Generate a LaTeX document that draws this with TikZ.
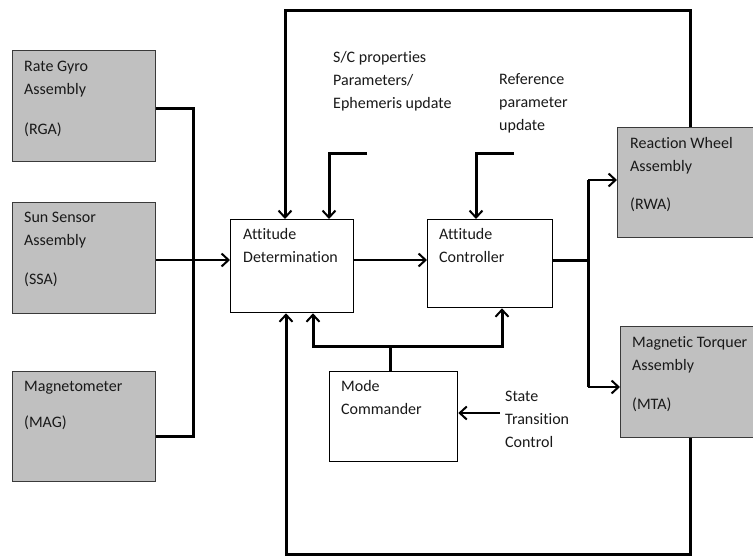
\documentclass[tikz,border=0pt]{standalone}
\usepackage{fontspec}
\setmainfont{Carlito}[Ligatures={NoCommon}]
\usetikzlibrary{arrows.meta}
\definecolor{boxgray}{HTML}{C0C0C0}
\definecolor{boxline}{HTML}{3A3A3A}
\begin{document}
\begin{tikzpicture}[x=1pt,y=-1pt,
  graybox/.style={draw=boxline,fill=boxgray,line width=1.3pt,inner sep=0pt,anchor=north west},
  whitebox/.style={draw=black,fill=white,line width=1.3pt,inner sep=0pt,anchor=north west},
  lbl/.style={anchor=base west,align=left,inner sep=0pt,font=\fontsize{16}{23}\selectfont,text=black!90},
  heavy/.style={line width=3pt},
  medium/.style={line width=2pt},
  tip/.style={-{Straight Barb[length=7pt,width=13pt,line width=2pt]}},
  line join=miter]
\clip (0,0) rectangle (753,557);
\fill[white] (0,0) rectangle (753,557);

% boxes
\node[graybox,minimum width=143pt,minimum height=111pt] (rga) at (12,50) {};
\node[graybox,minimum width=143pt,minimum height=111pt] (ssa) at (12,202) {};
\node[graybox,minimum width=143pt,minimum height=110pt] (mag) at (12,371) {};
\node[whitebox,minimum width=123pt,minimum height=93pt] (ad) at (230,219) {};
\node[whitebox,minimum width=125pt,minimum height=88pt] (ac) at (427,219) {};
\node[whitebox,minimum width=128pt,minimum height=90pt] (mc) at (329,371) {};
\node[graybox,minimum width=145pt,minimum height=110pt] (rwa) at (617,127) {};
\node[graybox,minimum width=142pt,minimum height=111pt] (mta) at (620,326) {};

% labels (anchored at the baseline of their last line)
\node[lbl] (trga) at (24,134) {Rate Gyro\\Assembly\\[17pt](RGA)};
\node[lbl] (tssa) at (24,284) {Sun Sensor\\Assembly\\[16pt](SSA)};
\node[lbl] (tmag) at (24,427) {Magnetometer\\[13pt](MAG)};
\node[lbl] (tad) at (243,262) {Attitude\\Determination};
\node[lbl] (tac) at (439,262) {Attitude\\Controller};
\node[lbl] (tmc) at (341,414) {Mode\\Commander};
\node[lbl] (trwa) at (630,209) {Reaction Wheel\\Assembly\\[15pt](RWA)};
\node[lbl] (tmta) at (632,409) {Magnetic Torquer\\Assembly\\[16pt](MTA)};
\node[lbl] (tsc) at (333,108) {S/C properties\\Parameters/\\Ephemeris update};
\node[lbl] (tref) at (499,130) {Reference\\parameter\\update};
\node[lbl] (tst) at (505,447) {State\\Transition\\Control};

% coordinates
\coordinate (row) at (0,260);
\coordinate (bt) at (193,108);
\coordinate (bb) at (193,436);
\coordinate (sp) at (588,260);
\coordinate (spt) at (588,180);
\coordinate (spb) at (588,387);
\coordinate (lt) at (285,10);
\coordinate (rt) at (690,10);
\coordinate (lb) at (286,554);
\coordinate (rb) at (690,554);
\coordinate (scin) at (367,153);
\coordinate (scc) at (329,153);
\coordinate (rfin) at (514,153);
\coordinate (rfc) at (476,153);
\coordinate (mcb) at (390,346);
\coordinate (mcl) at (313,346);
\coordinate (mcr) at (502,346);
\coordinate (stin) at (500,413);

% sensor bus
\draw[heavy] (rga.east |- bt) -- (bt) -- (bb) -- (mag.east |- bb);
\draw[medium,tip] (ssa.east |- row) -- (ad.west |- row);
\draw[medium,tip] (ad.east |- row) -- (ac.west |- row);

% actuator split
\draw[heavy] (ac.east |- row) -- (sp);
\draw[heavy] (spt) -- (spb);
\draw[medium,tip] (spt) -- (rwa.west |- spt);
\draw[medium,tip] (spb) -- (mta.west |- spb);

% feedback loops
\draw[heavy,tip] (rwa.north -| rt) -- (rt) -- (lt) -- (ad.north -| lt);
\draw[heavy,tip] (mta.south -| rb) -- (rb) -- (lb) -- (ad.south -| lb);

% parameter inputs
\draw[heavy,tip] (scin) -- (scc) -- (ad.north -| scc);
\draw[heavy,tip] (rfin) -- (rfc) -- (ac.north -| rfc);

% mode commander
\draw[heavy] (mc.north -| mcb) -- (mcb);
\draw[heavy,tip] (mcl -| mcb) -- (mcl) -- (ad.south -| mcl);
\draw[heavy,tip] (mcb) -- (mcr) -- (ac.south -| mcr);
\draw[medium,tip] (stin) -- (mc.east |- stin);
\end{tikzpicture}
\end{document}
